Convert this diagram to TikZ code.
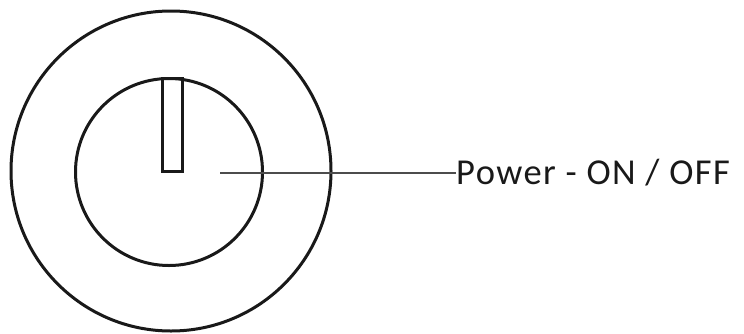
\documentclass[tikz,border=0pt]{standalone}
\usepackage{fontspec}
\setmainfont{Carlito}
\newfontfamily\lblfont[LetterSpace=4]{Carlito}
\begin{document}
\begin{tikzpicture}[x=1pt,y=-1pt,
  ring/.style={draw=black!90,line width=3pt},
  knob/.style={draw=black!90,line width=3pt},
  leader/.style={draw=black!70,line width=1.5pt},
  lbl/.style={inner sep=0pt,anchor=base west,font=\lblfont\fontsize{36.5}{40}\selectfont,text=black!90}]
\useasboundingbox (0,0) rectangle (744,333);
\draw[ring] (171,171) circle[radius=160];
\draw[ring] (169,172) circle[radius=93.5];
\draw[knob] (162,78) rectangle (182,171);
\coordinate (start) at (220,173);
\node[lbl] (label) at (456,184) {Power - ON / OFF};
\draw[leader] (start) -- (label.west |- start);
\end{tikzpicture}
\end{document}
